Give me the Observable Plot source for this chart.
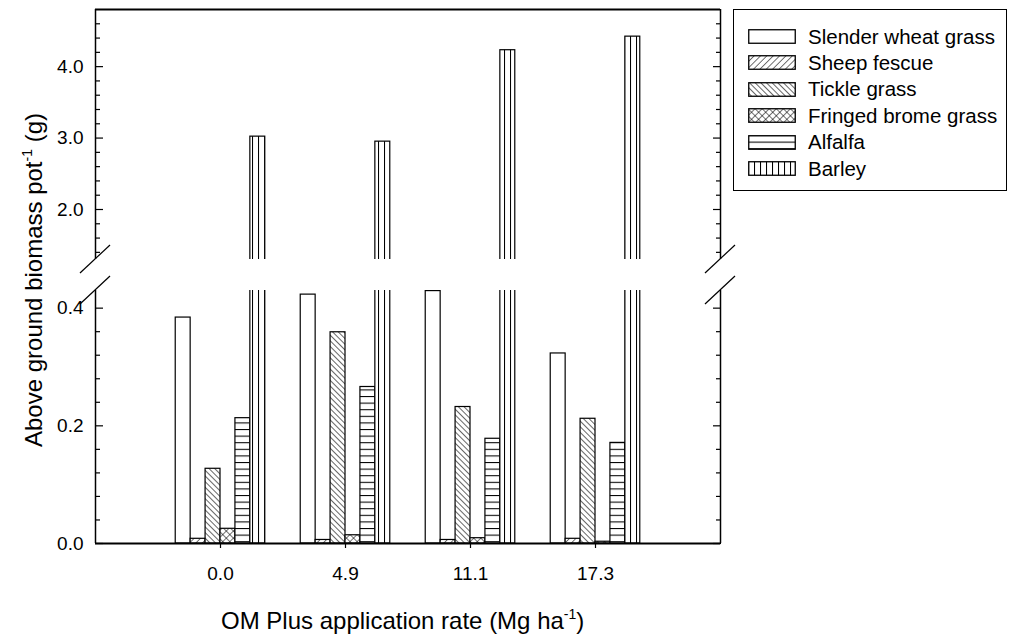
<!DOCTYPE html>
<html><head><meta charset="utf-8">
<script src="https://cdn.jsdelivr.net/npm/d3@7"></script>
<script src="https://cdn.jsdelivr.net/npm/@observablehq/plot@0.6"></script>
<style>
body{margin:0;background:#fff;font-family:"Liberation Sans",Arial,sans-serif;color:#000;}
#wrap{position:relative;width:1013px;height:639px;overflow:hidden;background:#fff;}
#wrap > svg{position:absolute;left:0;top:0;}
.ttl{position:absolute;font-size:24px;white-space:nowrap;line-height:1;}
.ttl sup{font-size:14px;vertical-align:0;position:relative;top:-10px;}
#legend{position:absolute;left:733px;top:9px;width:274px;height:182px;border:1.5px solid #000;box-sizing:border-box;}
.lrow{position:absolute;left:14px;height:20px;display:flex;align-items:center;font-size:20.5px;white-space:nowrap;}
.lrow svg{margin-right:12px;display:block;}
</style></head><body>
<svg width="0" height="0" style="position:absolute">
<defs>
<pattern id="pat1" patternUnits="userSpaceOnUse" width="4.5" height="4.5" patternTransform="rotate(45)"><rect width="4.5" height="4.5" fill="#fff"/><line x1="0" y1="0" x2="0" y2="4.5" stroke="#000" stroke-width="1.1"/></pattern>
<pattern id="pat2" patternUnits="userSpaceOnUse" width="4" height="4" patternTransform="rotate(-45)"><rect width="4" height="4" fill="#fff"/><line x1="0" y1="0" x2="0" y2="4" stroke="#000" stroke-width="1.2"/></pattern>
<pattern id="pat3" patternUnits="userSpaceOnUse" width="5" height="5" patternTransform="rotate(45)"><rect width="5" height="5" fill="#fff"/><line x1="0" y1="0" x2="0" y2="5" stroke="#000" stroke-width="1.1"/><line x1="0" y1="0" x2="5" y2="0" stroke="#000" stroke-width="1.1"/></pattern>
<pattern id="pat4" patternUnits="userSpaceOnUse" width="6" height="6.6"><rect width="6" height="6.6" fill="#fff"/><line x1="0" y1="0.5" x2="6" y2="0.5" stroke="#000" stroke-width="1.1"/></pattern>
<pattern id="pat5" patternUnits="userSpaceOnUse" width="6" height="6"><rect width="6" height="6" fill="#fff"/><line x1="0.5" y1="0" x2="0.5" y2="6" stroke="#000" stroke-width="1.1"/></pattern>
</defs>
</svg>
<div id="wrap"></div>
<script>
// ---- data ----
const rates = ["0.0", "4.9", "11.1", "17.3"];
const species = ["Slender wheat grass", "Sheep fescue", "Tickle grass", "Fringed brome grass", "Alfalfa", "Barley"];
const slender = [0.384, 0.423, 0.429, 0.323];
const sheep   = [0.008, 0.006, 0.006, 0.008];
const tickle  = [0.127, 0.359, 0.232, 0.212];
const fringed = [0.025, 0.014, 0.009, 0.003];
const alfalfa = [0.213, 0.266, 0.178, 0.171];
const barley  = [3.02, 2.95, 4.23, 4.42];
const upperMajor = [2, 3, 4];
const upperMinor = [1.4, 1.6, 1.8, 2.2, 2.4, 2.6, 2.8, 3.2, 3.4, 3.6, 3.8, 4.2, 4.4, 4.6];
const lowerMajor = [0, 0.2, 0.4];
const lowerMinor = [0.04, 0.08, 0.12, 0.16, 0.24, 0.28, 0.32, 0.36];
const upperDomain = [1.3, 4.8];
const lowerDomain = [0, 0.43];
const xDomain = [-1, 4];

// ---- styling / layout ----
const fills = ["#fff", "url(#pat1)", "url(#pat2)", "url(#pat3)", "url(#pat4)", "url(#pat5)"];
const BW = 0.1194; // bar width in category units
const W = 1013, H = 639;
const series = [slender, sheep, tickle, fringed, alfalfa, barley];
const table = species.flatMap((s, k) => series[k].map((v, g) => ({
  species: s, k, g, value: v, x1: g + (k - 3) * BW, x2: g + (k - 2) * BW
})));

function barMarks() {
  return species.map((s, k) => Plot.rect(table.filter(d => d.k === k), {
    x1: "x1", x2: "x2", y1: d => 0, y2: "value",
    fill: fills[k], stroke: "#000", strokeWidth: 1.2, clip: true
  }));
}
function yAxes(major, minor) {
  return [
    Plot.axisY(minor, {anchor: "left", tickSize: -5, tickFormat: () => "", label: null, strokeWidth: 1.2}),
    Plot.axisY(major, {anchor: "left", tickSize: -8, tickFormat: () => "", label: null, strokeWidth: 1.2}),
    Plot.axisY(minor, {anchor: "right", tickSize: -5, tickFormat: () => "", label: null, strokeWidth: 1.2}),
    Plot.axisY(major, {anchor: "right", tickSize: -8, tickFormat: () => "", label: null, strokeWidth: 1.2}),
    Plot.axisY(major, {anchor: "left", tickSize: 0, tickPadding: 12, tickFormat: d => d.toFixed(1), label: null, fontSize: 19})
  ];
}
const common = {
  width: W, height: H, marginLeft: 95, marginRight: W - 720,
  style: {fontFamily: "Liberation Sans, Arial, sans-serif", fontSize: "19px", background: "transparent", color: "#000", overflow: "visible"}
};

const upper = Plot.plot({
  ...common, marginTop: 9, marginBottom: H - 259,
  x: {type: "linear", domain: xDomain, axis: null},
  y: {domain: upperDomain, axis: null},
  marks: [
    ...barMarks(),
    ...yAxes(upperMajor, upperMinor),
    Plot.ruleY([upperDomain[1]], {strokeWidth: 2}),
    Plot.ruleX(xDomain, {strokeWidth: 1.5})
  ]
});
const lower = Plot.plot({
  ...common, marginTop: 290, marginBottom: H - 543,
  x: {type: "linear", domain: xDomain},
  y: {domain: lowerDomain},
  marks: [
    ...barMarks(),
    ...yAxes(lowerMajor, lowerMinor),
    Plot.axisX(rates.map((r, i) => i), {anchor: "bottom", tickSize: 5, tickPadding: 18, tickFormat: i => rates[i], label: null, fontSize: 19, strokeWidth: 1.2}),
    Plot.ruleY([lowerDomain[0]], {strokeWidth: 2}),
    Plot.ruleX(xDomain, {strokeWidth: 1.5})
  ]
});
const wrap = document.getElementById("wrap");
wrap.appendChild(upper);
wrap.appendChild(lower);

// axis break slashes, positioned from the plots' scales
const sx = upper.scale("x"), syu = upper.scale("y"), syl = lower.scale("y");
const ov = d3.create("svg").attr("width", W).attr("height", H);
for (const xv of xDomain) {
  const X = sx.apply(xv);
  for (const Y of [syu.apply(upperDomain[0]), syl.apply(lowerDomain[1])]) {
    ov.append("line").attr("x1", X - 15).attr("y1", Y + 14).attr("x2", X + 15).attr("y2", Y - 14)
      .attr("stroke", "#000").attr("stroke-width", 1.2);
  }
}
wrap.appendChild(ov.node());

// titles
const xt = document.createElement("div");
xt.className = "ttl";
xt.innerHTML = "OM Plus application rate (Mg ha<sup>-1</sup>)";
wrap.appendChild(xt);
const xc = (sx.apply(xDomain[0]) + sx.apply(xDomain[1])) / 2 - 5;
xt.style.left = (xc - xt.offsetWidth / 2) + "px";
xt.style.top = (621 - xt.offsetHeight / 2) + "px";

const yt = document.createElement("div");
yt.className = "ttl";
yt.innerHTML = "Above ground biomass pot<sup>-1</sup> (g)";
wrap.appendChild(yt);
const yc = (syu.apply(upperDomain[1]) + syl.apply(lowerDomain[0])) / 2;
yt.style.left = (34 - yt.offsetWidth / 2) + "px";
yt.style.top = (yc + 4 - yt.offsetHeight / 2) + "px";
yt.style.transform = "rotate(-90deg)";

// legend
const lg = document.createElement("div");
lg.id = "legend";
species.forEach((s, k) => {
  const row = document.createElement("div");
  row.className = "lrow";
  row.style.top = (16.5 + 26.4 * k) + "px";
  row.innerHTML = `<svg width="48" height="15"><rect x="0.75" y="0.75" width="46.5" height="13.5" fill="${fills[k]}" stroke="#000" stroke-width="1.3"/></svg><span>${s}</span>`;
  lg.appendChild(row);
});
wrap.appendChild(lg);
</script>
</body></html>
